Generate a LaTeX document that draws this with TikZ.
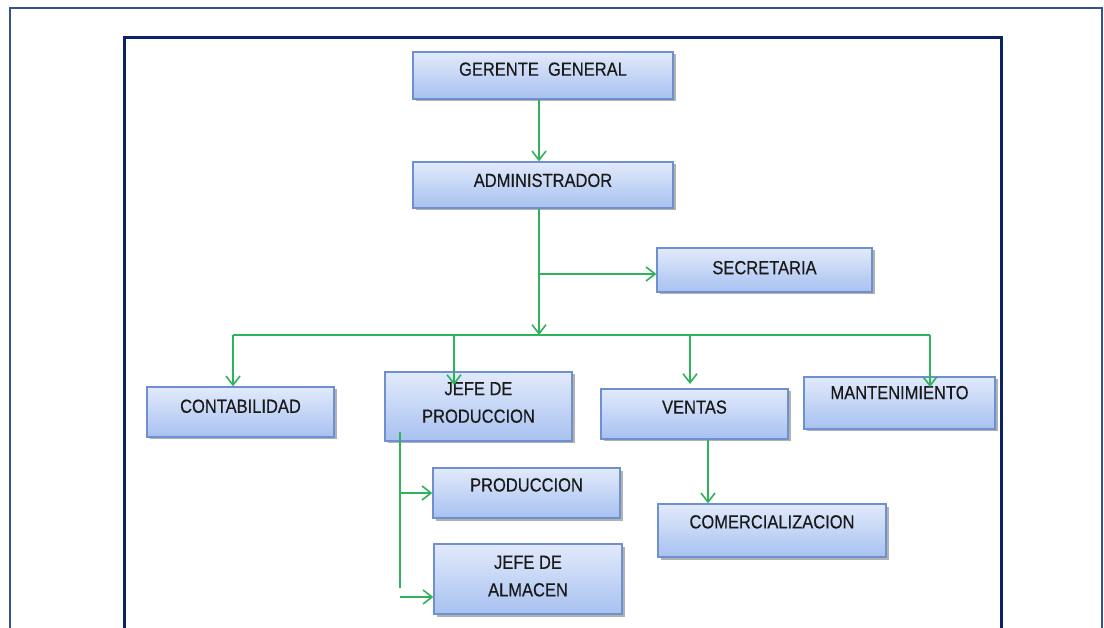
\documentclass[tikz,border=0pt]{standalone}
\usepackage{fontspec}
\setmainfont{Liberation Sans}
\newfontfamily\boxfont{Liberation Sans}[FakeBold=0.4]
\usetikzlibrary{arrows.meta,shadows,calc}
\definecolor{frameout}{HTML}{34528F}
\definecolor{framein}{HTML}{0B2266}
\definecolor{boxtop}{HTML}{E2EAFB}
\definecolor{boxbot}{HTML}{A7C1F0}
\definecolor{boxline}{HTML}{6F90CF}
\definecolor{conngreen}{HTML}{2FB35A}
\tikzset{
  x=1pt, y=-1pt,
  box/.style={rectangle, draw=boxline, line width=1.3pt, top color=boxtop, bottom color=boxbot,
    drop shadow={shadow xshift=2.5pt, shadow yshift=-2.5pt, fill=black!50, opacity=.6}},
  txt/.style={font={\boxfont\fontsize{16.5}{24}\selectfont}, align=center, text=black!90, inner sep=0pt,
    transform shape, yscale=1.15},
  link/.style={draw=conngreen, line width=1.7pt},
  arr/.style={link, -{Straight Barb[length=9pt,width=14pt,line width=1.6pt]}},
}
\begin{document}
\begin{tikzpicture}
\useasboundingbox (0,0) rectangle (1104,628);
\fill[white] (0,0) rectangle (1104,628);
% page frames
\draw[frameout, line width=2pt] (10,628) -- (10,8) -- (1102,8) -- (1102,628);
\draw[framein, line width=3pt] (124,628) -- (124,38) -- (1001,38) -- (1001,628);

% boxes
\node[box, minimum width=260pt, minimum height=47pt, label={[txt,yshift=5.5pt]center:GERENTE\ \ GENERAL}] (gg) at (543,75.5) {};
\node[box, minimum width=260pt, minimum height=46pt, label={[txt,yshift=4pt]center:ADMINISTRADOR}] (adm) at (543,185) {};
\node[box, minimum width=215pt, minimum height=44pt, label={[txt,yshift=2pt]center:SECRETARIA}] (sec) at (764.5,270) {};
\node[box, minimum width=187pt, minimum height=50pt, label={[txt,yshift=5pt]center:CONTABILIDAD}] (cont) at (240.5,412) {};
\node[box, minimum width=187pt, minimum height=69pt, label={[txt,yshift=3.5pt]center:JEFE DE\\PRODUCCION}] (jdp) at (478.5,406.5) {};
\node[box, minimum width=187pt, minimum height=50pt, label={[txt,yshift=6pt]center:VENTAS}] (ven) at (694.5,414) {};
\node[box, minimum width=191pt, minimum height=52pt, label={[txt,yshift=9pt]center:MANTENIMIENTO}] (man) at (899.5,403) {};
\node[box, minimum width=187pt, minimum height=50pt, label={[txt,yshift=7pt]center:PRODUCCION}] (prod) at (526.5,493) {};
\node[box, minimum width=188pt, minimum height=70pt, label={[txt,yshift=2.5pt]center:JEFE DE\\ALMACEN}] (jda) at (528,579) {};
\node[box, minimum width=228pt, minimum height=53pt, label={[txt,yshift=7.5pt]center:COMERCIALIZACION}] (com) at (772,530.5) {};

% connector points
\coordinate (hub) at (539,335);
\coordinate (busL) at (233,335);
\coordinate (busR) at (930,335);
\coordinate (busJ) at (454,335);
\coordinate (busV) at (690,335);
\coordinate (jv) at (400,432);
\coordinate (ja) at (400,597);
\coordinate (vx) at (708,0);

% connectors
\draw[arr] (gg.south -| hub) -- (adm.north -| hub);
\draw[arr] (adm.south -| hub) -- (hub);
\draw[arr] ($(hub |- sec.west)+(0,4)$) -- ($(sec.west)+(0,4)$);
\draw[link] (busL) -- (busR);
\draw[arr] (busL) -- (cont.north -| busL);
\draw[arr] (busJ) -- ++(0,50);
\draw[arr] (busV) -- ++(0,49);
\draw[arr] (busR) -- ++(0,52);
\draw[link] (jv) -- ++(0,156);
\draw[arr] (jv |- prod.west) -- (prod.west);
\draw[arr] (ja) -- (ja -| jda.west);
\draw[arr] (vx |- ven.south) -- (vx |- com.north);
\end{tikzpicture}
\end{document}
